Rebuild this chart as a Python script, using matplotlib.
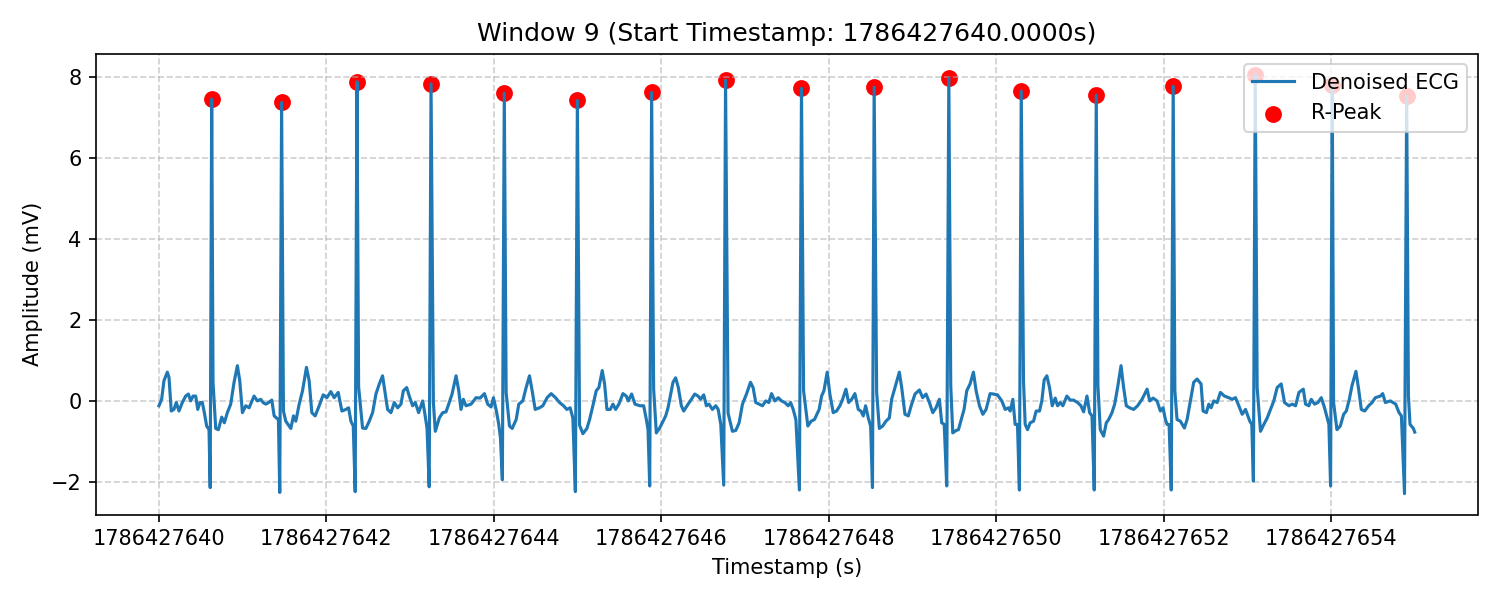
import matplotlib
matplotlib.use("Agg")
import numpy as np
import matplotlib.pyplot as plt

window_id = 9
start_ts = 1786427640.0

# R-peaks (seconds after window start, mV)
r_t = [0.630, 1.465, 2.365, 3.250, 4.125, 4.998, 5.885, 6.768, 7.675,
       8.543, 9.435, 10.300, 11.196, 12.115, 13.095, 14.015, 14.904]
r_v = [7.45, 7.37, 7.88, 7.83, 7.60, 7.42, 7.62, 7.92, 7.72,
       7.75, 7.97, 7.65, 7.55, 7.77, 8.05, 7.80, 7.52]

# sharp negative deflection just before each R
q_t = [0.612, 1.443, 2.344, 3.228, 4.102, 4.974, 5.862, 6.746, 7.650,
       8.523, 9.410, 10.278, 11.172, 12.092, 13.073, 13.995, 14.878]
q_v = [-2.14, -2.26, -2.24, -2.12, -1.95, -2.24, -2.10, -2.08, -2.20,
       -2.14, -2.10, -2.20, -2.20, -2.20, -1.98, -2.10, -2.29]

# rest of the trace
base_t = [0.000, 0.032, 0.060, 0.100, 0.120, 0.147, 0.179, 0.207, 0.239, 0.279,
          0.319, 0.351, 0.379, 0.407, 0.439, 0.463, 0.490, 0.518, 0.542, 0.570,
          0.598,
          0.646, 0.678, 0.710, 0.750, 0.781, 0.817, 0.857, 0.897, 0.937, 0.965,
          0.997, 1.037, 1.077, 1.136, 1.176, 1.216, 1.244, 1.276, 1.310, 1.348,
          1.376, 1.403, 1.427,
          1.487, 1.515, 1.575, 1.607, 1.635, 1.675, 1.715, 1.762, 1.794, 1.826,
          1.866, 1.914, 1.962, 2.006, 2.053, 2.093, 2.141, 2.185, 2.233, 2.265,
          2.293, 2.321,
          2.385, 2.432, 2.472, 2.512, 2.552, 2.592, 2.632, 2.671, 2.703, 2.731,
          2.771, 2.811, 2.851, 2.891, 2.919, 2.959, 2.990, 3.030, 3.062, 3.102,
          3.150, 3.174, 3.202,
          3.278, 3.301, 3.349, 3.389, 3.429, 3.461, 3.501, 3.549, 3.581, 3.608,
          3.636, 3.668, 3.728, 3.788, 3.836, 3.888, 3.927, 3.967, 3.995, 4.027,
          4.059, 4.079,
          4.147, 4.187, 4.219, 4.267, 4.298, 4.346, 4.386, 4.426, 4.458, 4.494,
          4.545, 4.585, 4.637, 4.685, 4.737, 4.785, 4.833, 4.872, 4.912, 4.944,
          5.024, 5.064, 5.112, 5.144, 5.183, 5.223, 5.255, 5.295, 5.323, 5.351,
          5.390, 5.423, 5.455, 5.494, 5.542, 5.582, 5.606, 5.646, 5.686, 5.746,
          5.790, 5.822, 5.842,
          5.909, 5.941, 5.981, 6.021, 6.053, 6.081, 6.108, 6.140, 6.172, 6.204,
          6.240, 6.268, 6.308, 6.360, 6.400, 6.440, 6.470, 6.507, 6.539, 6.570,
          6.611, 6.651, 6.680, 6.711,
          6.798, 6.850, 6.890, 6.930, 6.970, 7.018, 7.066, 7.097, 7.129, 7.170,
          7.209, 7.249, 7.285, 7.317, 7.357, 7.397, 7.437, 7.476, 7.516, 7.545,
          7.576, 7.608,
          7.700, 7.751, 7.791, 7.830, 7.886, 7.915, 7.943, 7.982, 8.014, 8.054,
          8.094, 8.134, 8.166, 8.206, 8.238, 8.275, 8.313, 8.353, 8.385, 8.413,
          8.441, 8.473, 8.501,
          8.573, 8.605, 8.645, 8.684, 8.724, 8.752, 8.792, 8.844, 8.872, 8.911,
          8.951, 8.991, 9.031, 9.083, 9.123, 9.163, 9.203, 9.243, 9.282, 9.322,
          9.350, 9.380,
          9.458, 9.482, 9.522, 9.550, 9.578, 9.617, 9.649, 9.689, 9.729, 9.761,
          9.801, 9.841, 9.880, 9.928, 9.968, 10.016, 10.068, 10.108, 10.148, 10.168,
          10.200, 10.227, 10.255,
          10.327, 10.347, 10.375, 10.407, 10.447, 10.478, 10.518, 10.546, 10.574, 10.606,
          10.638, 10.670, 10.706, 10.734, 10.766, 10.797, 10.845, 10.885, 10.925, 10.973,
          11.013, 11.045, 11.085, 11.117, 11.145,
          11.216, 11.244, 11.284, 11.316, 11.344, 11.384, 11.416, 11.451, 11.492, 11.523,
          11.555, 11.595, 11.643, 11.690, 11.743, 11.803, 11.835, 11.875, 11.922, 11.962,
          11.994, 12.022, 12.042, 12.066,
          12.135, 12.161, 12.201, 12.249, 12.281, 12.321, 12.360, 12.400, 12.448, 12.472,
          12.512, 12.540, 12.568, 12.600, 12.640, 12.679, 12.727, 12.779, 12.819, 12.859,
          12.899, 12.939, 12.979, 13.030, 13.054,
          13.118, 13.158, 13.198, 13.238, 13.278, 13.317, 13.357, 13.405, 13.445, 13.497,
          13.537, 13.577, 13.617, 13.669, 13.696, 13.736, 13.764, 13.804, 13.844, 13.884,
          13.923, 13.955, 13.975,
          14.031, 14.071, 14.111, 14.151, 14.183, 14.219, 14.250, 14.298, 14.330, 14.362,
          14.402, 14.450, 14.490, 14.530, 14.590, 14.618, 14.649, 14.709, 14.773, 14.813,
          14.841,
          14.925, 14.944, 14.984, 15.000]
base_v = [-0.12, 0.04, 0.50, 0.71, 0.58, -0.25, -0.21, -0.04, -0.25, -0.04,
          0.12, 0.17, 0.00, 0.12, 0.12, -0.21, -0.04, -0.04, -0.29, -0.62,
          -0.71,
          0.46, -0.68, -0.71, -0.40, -0.54, -0.29, -0.08, 0.46, 0.87, 0.50,
          -0.29, -0.12, -0.17, 0.12, 0.00, 0.04, -0.04, -0.08, -0.04, 0.02,
          -0.37, -0.42, -0.46,
          -0.25, -0.50, -0.68, -0.37, -0.50, -0.08, 0.25, 0.83, 0.50, -0.29,
          -0.37, -0.12, 0.15, 0.08, 0.23, 0.08, 0.21, -0.25, -0.21, -0.17,
          -0.50, -0.62,
          0.35, -0.67, -0.68, -0.50, -0.29, 0.17, 0.42, 0.62, 0.17, -0.21,
          -0.29, -0.04, -0.17, -0.08, 0.25, 0.33, 0.12, -0.12, -0.04, -0.29,
          0.00, -0.29, -0.67,
          -0.04, -0.75, -0.42, -0.29, -0.27, -0.08, 0.17, 0.62, 0.25, -0.21,
          0.04, -0.12, -0.08, 0.08, 0.07, 0.18, -0.08, -0.15, 0.08, -0.21,
          -0.58, -0.91,
          0.21, -0.62, -0.68, -0.46, -0.08, 0.00, 0.33, 0.62, 0.25, -0.21,
          -0.17, -0.12, 0.08, 0.18, 0.08, -0.04, -0.12, -0.21, -0.17, -0.42,
          -0.60, -0.81, -0.68, -0.46, -0.12, 0.25, 0.33, 0.75, 0.42, -0.21,
          -0.21, -0.08, -0.21, -0.08, 0.18, 0.12, 0.00, 0.17, -0.08, -0.12,
          -0.12, -0.46, -0.71,
          0.29, -0.79, -0.67, -0.50, -0.37, -0.17, 0.12, 0.46, 0.57, 0.33,
          -0.12, -0.25, -0.12, 0.04, 0.17, 0.12, 0.04, 0.15, -0.12, -0.08,
          -0.21, -0.12, -0.21, -0.58,
          -0.30, -0.75, -0.73, -0.54, -0.08, 0.17, 0.46, 0.33, -0.04, -0.08,
          -0.12, 0.00, -0.04, 0.18, 0.00, 0.08, 0.00, -0.04, -0.12, -0.04,
          -0.21, -0.46,
          0.25, -0.62, -0.50, -0.46, -0.21, 0.12, 0.25, 0.71, 0.17, -0.29,
          -0.25, -0.12, 0.04, 0.29, -0.04, 0.04, 0.18, -0.21, -0.25, -0.37,
          -0.12, -0.42, -0.62,
          0.21, -0.68, -0.62, -0.50, -0.42, 0.04, 0.33, 0.71, 0.33, -0.33,
          -0.37, -0.08, 0.17, 0.27, 0.08, 0.17, -0.04, -0.29, -0.17, 0.04,
          -0.54, -0.58,
          0.37, -0.79, -0.73, -0.71, -0.50, -0.21, 0.25, 0.42, 0.71, 0.25,
          -0.12, -0.33, -0.21, 0.18, 0.17, 0.15, 0.00, -0.21, -0.17, -0.25,
          0.04, -0.58, -0.58,
          0.50, -0.58, -0.71, -0.54, -0.50, -0.25, -0.25, 0.00, 0.52, 0.62,
          0.33, -0.12, 0.07, -0.12, -0.04, -0.12, 0.12, 0.02, 0.02, -0.04,
          -0.12, -0.27, 0.12, -0.29, -0.37,
          0.37, -0.71, -0.87, -0.54, -0.46, -0.29, -0.08, 0.33, 0.87, 0.33,
          -0.12, -0.17, -0.21, -0.12, 0.04, 0.29, 0.00, 0.07, 0.00, -0.25,
          -0.17, -0.46, -0.58, -0.58,
          0.25, -0.46, -0.50, -0.67, -0.46, 0.00, 0.46, 0.54, 0.42, -0.25,
          -0.29, -0.08, -0.17, 0.00, -0.04, 0.21, 0.12, 0.08, 0.04, 0.08,
          -0.12, -0.33, -0.21, -0.50, -0.58,
          0.33, -0.75, -0.58, -0.42, -0.21, 0.00, 0.33, 0.42, -0.04, -0.12,
          -0.08, -0.12, 0.21, 0.29, -0.08, -0.12, 0.04, -0.08, -0.04, 0.08,
          -0.17, -0.42, -0.58,
          -0.04, -0.71, -0.62, -0.33, -0.25, 0.04, 0.37, 0.73, 0.29, -0.21,
          -0.25, -0.12, -0.04, 0.08, 0.12, 0.18, -0.04, 0.00, -0.08, -0.29,
          -0.37,
          0.12, -0.58, -0.68, -0.77]

t_all = np.array(base_t + q_t + r_t)
v_all = np.array(base_v + q_v + r_v)
order = np.argsort(t_all)
ts = start_ts + t_all[order]
ecg = v_all[order]

fig, ax = plt.subplots(figsize=(10, 4), dpi=150)
ax.plot(ts, ecg, label="Denoised ECG")
ax.scatter(start_ts + np.array(r_t), r_v, color="red", s=50, label="R-Peak")

ax.set_title(f"Window {window_id} (Start Timestamp: {start_ts:.4f}s)")
ax.set_xlabel("Timestamp (s)")
ax.set_ylabel("Amplitude (mV)")
ax.ticklabel_format(axis="x", useOffset=False, style="plain")
ax.grid(True, linestyle="--", alpha=0.6)
ax.legend(loc="upper right")
fig.tight_layout()
fig.savefig("out.png")
